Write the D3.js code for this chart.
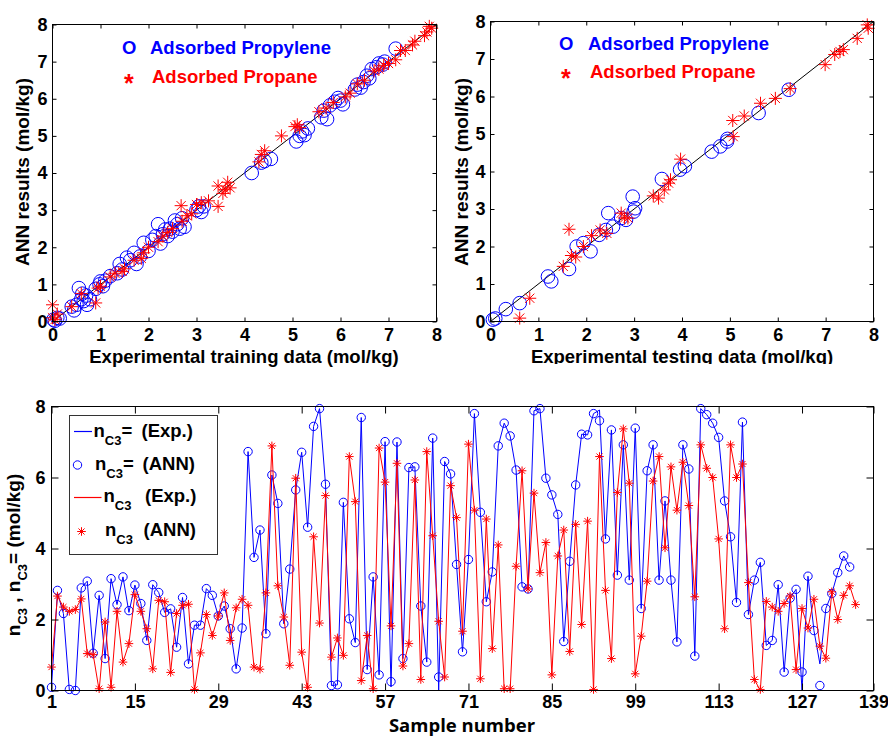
<!DOCTYPE html>
<html>
<head>
<meta charset="utf-8">
<script src="https://cdn.jsdelivr.net/npm/d3@7"></script>
<style>
  body { margin: 0; background: #fff; }
  svg { display: block; font-family: "Liberation Sans", Arial, sans-serif; font-weight: bold; }
</style>
</head>
<body>
<div id="chart"></div>
<script>
// training data (experimental vs ANN), mol/kg
const trainPropyleneExp = [0.02,0.05,0.1,0.15,0.4,0.45,0.5,0.55,0.6,0.62,0.65,0.7,0.72,0.78,0.9,0.98,1.0,1.05,1.1,1.2,1.35,1.4,1.45,1.55,1.62,1.7,1.75,1.82,1.9,2.0,2.08,2.15,2.2,2.25,2.3,2.35,2.4,2.45,2.5,2.55,2.6,2.65,2.7,2.75,3.0,3.05,3.1,3.15,4.15,4.35,4.42,4.55,5.08,5.15,5.2,5.25,5.32,5.6,5.65,5.72,5.78,5.88,5.95,6.0,6.05,6.3,6.35,6.42,6.48,6.55,6.6,6.65,6.75,6.8,6.88,6.92,7.15];
const trainPropyleneAnn = [0.05,0.02,0.1,0.08,0.4,0.3,0.45,0.9,0.6,0.75,0.55,0.7,0.45,0.6,0.88,1.0,1.08,0.95,1.1,1.22,1.3,1.55,1.4,1.72,1.65,1.85,1.55,1.75,2.12,1.9,2.2,2.3,2.62,2.1,2.35,2.48,2.3,2.5,2.42,2.72,2.62,2.5,2.78,2.55,3.0,3.1,2.95,3.1,4.0,4.28,4.32,4.38,4.85,5.0,5.12,5.02,5.2,5.5,5.68,5.45,5.82,5.92,6.02,5.95,5.85,6.25,6.38,6.3,6.45,6.62,6.55,6.8,6.85,6.95,6.92,7.0,7.35];
const trainPropaneExp = [0.0,0.0,0.05,0.1,0.4,0.6,0.9,0.95,1.0,1.2,1.3,1.45,1.5,1.7,1.85,1.9,2.0,2.2,2.3,2.4,2.5,2.68,2.7,2.8,2.9,3.0,3.1,3.25,3.45,3.45,3.55,3.6,3.65,3.7,4.3,4.35,4.42,4.77,5.05,5.1,5.15,5.55,5.7,5.85,6.1,6.2,6.35,6.5,6.7,6.8,6.9,7.0,7.15,7.25,7.35,7.5,7.55,7.75,7.8,7.85,7.9];
const trainPropaneAnn = [0.45,0.1,0.05,0.2,0.4,0.75,0.5,0.9,0.95,1.2,1.3,1.35,1.42,1.65,1.7,1.85,2.0,2.15,2.3,2.4,2.5,3.12,2.7,2.85,2.9,3.15,3.2,3.25,3.1,3.65,3.45,3.55,3.75,3.6,4.3,4.5,4.6,5.0,5.25,5.3,5.22,5.65,5.75,5.9,6.05,6.15,6.4,6.5,6.75,6.8,6.9,6.95,7.05,7.3,7.3,7.45,7.55,7.7,7.8,7.95,7.9];

// testing data
const testPropyleneExp = [0.05,0.1,0.32,0.61,1.2,1.27,1.64,1.8,1.94,2.09,2.27,2.41,2.46,2.56,2.73,2.83,2.97,3.02,2.99,3.58,3.96,4.06,4.62,4.8,4.94,4.95,5.6,6.23];
const testPropyleneAnn = [0.05,0.08,0.33,0.49,1.2,1.07,1.4,2.0,2.09,1.87,2.31,2.44,2.89,2.53,2.76,2.71,3.33,3.02,2.93,3.8,4.05,4.14,4.53,4.67,4.8,4.87,5.56,6.18];
const testPropaneExp = [0.61,0.82,1.52,1.64,1.69,1.78,1.94,2.11,2.29,2.43,2.73,2.8,2.87,3.4,3.51,3.63,3.72,3.76,3.97,5.07,5.06,5.3,5.64,5.95,6.26,6.99,7.19,7.3,7.37,7.66,7.87,7.89];
const testPropaneAnn = [0.09,0.62,1.47,2.46,1.76,1.72,2.0,2.29,2.44,2.35,2.89,2.76,2.76,3.35,3.29,3.51,3.69,3.78,4.33,4.93,5.36,5.48,5.82,5.95,6.21,6.85,7.12,7.2,7.25,7.55,7.91,7.82];

// per-sample series (sample 1..n)
const propyleneExp = [0.1,2.75,2.17,0.0,0.0,2.89,3.08,1.05,2.68,0.9,
  3.15,2.42,3.2,2.2,2.97,2.45,1.41,2.98,2.76,2.2,
  2.3,1.22,2.62,0.75,1.84,1.84,2.87,2.68,2.1,2.38,
  1.74,0.61,1.76,6.73,3.75,4.52,1.6,6.07,5.27,1.88,
  3.42,5.65,6.71,4.6,7.44,7.94,5.81,0.14,0.16,5.3,
  2.02,1.35,7.69,0.59,3.2,0.44,7.01,0.1,7.0,0.9,
  6.28,6.3,2.38,0.8,7.11,0.0,6.45,6.1,3.55,1.09,
  3.69,7.8,5.02,2.5,3.34,6.89,7.53,7.17,6.21,2.92,
  2.86,7.88,7.94,5.98,5.51,4.96,1.38,3.64,5.79,7.22,
  7.2,7.8,7.9,4.27,7.34,3.25,6.92,3.11,7.39,2.31,
  6.19,6.92,3.11,5.34,3.11,1.37,6.92,6.24,0.97,7.94,
  7.77,7.53,7.13,5.34,4.33,2.48,7.56,2.14,3.11,3.61,
  1.27,1.41,2.98,0.52,2.6,2.85,0.0,3.22,1.69,0.75,
  2.31,2.73,3.32,3.79,3.48];
const propyleneAnn = [0.09,2.82,2.17,0.03,0.0,2.89,3.08,1.05,2.68,0.9,
  3.15,2.42,3.2,2.25,2.97,2.45,1.41,2.98,2.76,2.2,
  2.3,1.22,2.62,0.75,1.84,1.84,2.87,2.68,2.1,2.38,
  1.74,0.61,1.76,6.73,3.75,4.52,1.6,6.07,5.27,1.88,
  3.42,5.65,6.71,4.6,7.44,7.94,5.81,0.14,0.16,5.3,
  2.02,1.35,7.69,0.59,3.2,0.44,7.01,0.25,7.0,0.9,
  6.28,6.3,2.38,0.8,7.11,0.38,6.45,6.1,3.55,1.09,
  3.69,7.8,5.02,2.5,3.34,6.89,7.53,7.17,6.21,2.92,
  2.86,7.88,7.94,5.98,5.51,4.96,1.38,3.64,5.79,7.22,
  7.2,7.8,7.6,4.27,7.34,3.25,6.92,3.11,7.39,2.31,
  6.19,6.92,3.11,5.34,3.11,1.37,6.92,6.24,0.97,7.94,
  7.77,7.53,7.13,5.34,4.33,2.48,7.56,2.14,3.11,3.61,
  1.27,1.41,2.98,0.52,2.6,2.85,0.52,3.22,1.69,0.14,
  2.31,2.73,3.32,3.79,3.48];
const propaneExp = [0.66,2.66,2.35,2.23,2.28,2.58,1.04,1.01,0.0,1.93,
  0.09,2.23,0.8,1.32,2.7,2.23,1.74,0.61,2.54,2.5,
  0.51,2.17,2.4,2.43,0.0,1.06,2.14,1.55,2.1,2.75,
  1.41,2.33,2.57,2.4,0.66,0.6,2.75,6.89,2.95,2.07,
  0.71,5.98,1.08,0.0,4.33,1.9,5.49,0.94,1.48,0.99,
  6.59,5.32,0.28,1.55,0.0,6.83,5.87,1.82,6.4,0.69,
  1.32,5.93,0.31,6.73,4.36,1.95,0.38,5.77,4.87,1.67,
  6.94,5.08,0.33,4.83,1.18,4.1,0.0,0.0,3.5,6.19,
  2.86,5.56,3.32,4.17,0.44,3.79,4.52,1.1,4.68,1.86,
  4.77,0.0,6.59,2.82,0.9,5.58,7.37,5.84,0.47,1.53,
  3.08,5.9,6.59,4.02,6.3,5.08,6.43,5.21,2.64,6.92,
  6.26,6.0,4.27,1.74,6.92,6.0,6.38,3.04,0.31,0.0,
  2.51,2.35,2.23,2.45,2.66,0.59,2.31,1.76,2.57,1.25,
  0.91,2.78,2.0,2.68,2.95,2.42];
const propaneAnn = [0.66,2.66,2.35,2.23,2.28,2.58,1.04,1.01,0.05,1.93,
  0.09,2.23,0.8,1.32,2.7,2.23,1.74,0.61,2.54,2.5,
  0.51,2.17,2.4,2.43,0.03,1.06,2.14,1.55,2.1,2.75,
  1.41,2.33,2.57,2.4,0.66,0.6,2.75,6.89,2.95,2.07,
  0.71,5.98,1.08,0.09,4.33,1.9,5.49,0.94,1.48,0.99,
  6.59,5.32,0.28,1.55,0.05,6.83,5.87,1.82,6.4,0.69,
  1.32,5.93,0.31,6.73,4.36,1.95,0.38,5.77,4.87,1.67,
  6.94,5.08,0.33,4.83,1.18,4.1,0.05,0.05,3.5,6.19,
  2.86,5.56,3.32,4.17,0.44,3.79,4.52,1.1,4.68,1.86,
  4.77,0.03,6.59,2.82,0.9,5.58,7.37,5.84,0.47,1.53,
  3.08,5.9,6.59,4.02,6.3,5.08,6.43,5.21,2.64,6.92,
  6.26,6.0,4.27,1.74,6.92,6.0,6.38,3.04,0.31,0.03,
  2.51,2.35,2.23,2.45,2.66,0.59,2.31,1.76,2.57,1.25,
  0.91,2.78,2.0,2.68,2.95,2.42];

const scatterTicks = [0,1,2,3,4,5,6,7,8];
const sampleTicks = [1,15,29,43,57,71,85,99,113,127,139];
const nTicks = [0,2,4,6,8];

const BLUE = "#0000ff", RED = "#ff0000";
const svg = d3.select("#chart").append("svg").attr("width", 888).attr("height", 738);
svg.append("rect").attr("width", 888).attr("height", 738).attr("fill", "#fff");

// MATLAB '*' marker
function starPath(r) {
  const k = r * 0.7071;
  return `M${-r},0H${r}M0,${-r}V${r}M${-k},${-k}L${k},${k}M${-k},${k}L${k},${-k}`;
}

// axes with inward ticks on all four sides and a box
function drawAxes(g, x, y, xTicks, yTicks, tick, padX, padY) {
  const [x0, x1] = x.range(), [y0, y1] = y.range();
  const fmt = d3.format("d");
  const style = (a) => a.call((s) => s.select(".domain").remove())
    .attr("font-size", 18).attr("font-family", null).attr("font-weight", "bold");
  g.append("g").attr("transform", `translate(0,${y0})`)
    .call(d3.axisBottom(x).tickValues(xTicks).tickSizeInner(-tick).tickSizeOuter(0).tickPadding(padX).tickFormat(fmt)).call(style);
  g.append("g").attr("transform", `translate(0,${y1})`)
    .call(d3.axisTop(x).tickValues(xTicks).tickSizeInner(-tick).tickSizeOuter(0).tickFormat("")).call(style);
  g.append("g").attr("transform", `translate(${x0},0)`)
    .call(d3.axisLeft(y).tickValues(yTicks).tickSizeInner(-tick).tickSizeOuter(0).tickPadding(padY).tickFormat(fmt)).call(style);
  g.append("g").attr("transform", `translate(${x1},0)`)
    .call(d3.axisRight(y).tickValues(yTicks).tickSizeInner(-tick).tickSizeOuter(0).tickFormat("")).call(style);
  g.append("rect").attr("x", x0).attr("y", y1).attr("width", x1 - x0).attr("height", y0 - y1)
    .attr("fill", "none").attr("stroke", "#000");
}

function parity(g, x, y, pExp, pAnn, cExp, cAnn) {
  g.append("line").attr("x1", x(0)).attr("y1", y(0)).attr("x2", x(8)).attr("y2", y(8))
    .attr("stroke", "#000").attr("stroke-width", 1);
  g.append("g").selectAll("circle").data(d3.zip(pExp, pAnn)).join("circle")
    .attr("cx", (d) => x(d[0])).attr("cy", (d) => y(d[1])).attr("r", 6.8)
    .attr("fill", "none").attr("stroke", BLUE).attr("stroke-width", 1);
  g.append("g").selectAll("path").data(d3.zip(cExp, cAnn)).join("path")
    .attr("transform", (d) => `translate(${x(d[0])},${y(d[1])})`).attr("d", starPath(6.5))
    .attr("fill", "none").attr("stroke", RED).attr("stroke-width", 1);
}

function parityLegend(g, lx, tx, y1, y2) {
  g.append("text").attr("x", lx).attr("y", y1).attr("font-size", 18.5).attr("fill", BLUE).text("O");
  g.append("text").attr("x", tx).attr("y", y1).attr("font-size", 18.5).attr("fill", BLUE).text("Adsorbed Propylene");
  g.append("text").attr("x", lx + 2).attr("y", y2 + 9).attr("font-size", 25).attr("fill", RED).text("*");
  g.append("text").attr("x", tx + 2).attr("y", y2).attr("font-size", 18.5).attr("fill", RED).text("Adsorbed Propane");
}

// ---- top left: training ----
const xL = d3.scaleLinear().domain([0, 8]).range([52.5, 436.5]);
const yL = d3.scaleLinear().domain([0, 8]).range([321.5, 24.5]);
const gL = svg.append("g");
parity(gL, xL, yL, trainPropyleneExp, trainPropyleneAnn, trainPropaneExp, trainPropaneAnn);
drawAxes(gL, xL, yL, scatterTicks, scatterTicks, 4, 7, 5);
parityLegend(gL, 122, 150, 54, 82.7);
gL.append("text").attr("x", 244).attr("y", 363).attr("text-anchor", "middle").attr("font-size", 18.5)
  .text("Experimental training data (mol/kg)");
gL.append("text").attr("transform", "translate(29,172) rotate(-90)").attr("text-anchor", "middle")
  .attr("font-size", 19).text("ANN results (mol/kg)");

// ---- top right: testing ----
const xR = d3.scaleLinear().domain([0, 8]).range([490.5, 873.5]);
const yR = d3.scaleLinear().domain([0, 8]).range([321.5, 21.5]);
const gR = svg.append("g");
parity(gR, xR, yR, testPropyleneExp, testPropyleneAnn, testPropaneExp, testPropaneAnn);
drawAxes(gR, xR, yR, scatterTicks, scatterTicks, 4, 7, 5);
parityLegend(gR, 559, 588, 49.5, 78.3);
gR.append("text").attr("x", 682).attr("y", 363).attr("text-anchor", "middle").attr("font-size", 18.5)
  .text("Experimental testing data (mol/kg)");
gR.append("text").attr("transform", "translate(468,172) rotate(-90)").attr("text-anchor", "middle")
  .attr("font-size", 19).text("ANN results (mol/kg)");
// the lower panel covers the foot of this label
svg.append("rect").attr("x", 440).attr("y", 364).attr("width", 448).attr("height", 30).attr("fill", "#fff");

// ---- bottom: per sample ----
const xB = d3.scaleLinear().domain([1, 139]).range([51.5, 873.5]);
const yB = d3.scaleLinear().domain([0, 8]).range([690.5, 406.5]);
const gB = svg.append("g");
const line = d3.line().x((d, i) => xB(i + 1)).y((d) => yB(d));

gB.append("path").datum(propyleneExp).attr("d", line).attr("fill", "none").attr("stroke", BLUE).attr("stroke-width", 1);
gB.append("g").selectAll("circle").data(propyleneAnn).join("circle")
  .attr("cx", (d, i) => xB(i + 1)).attr("cy", (d) => yB(d)).attr("r", 4.2)
  .attr("fill", "none").attr("stroke", BLUE).attr("stroke-width", 1);
gB.append("path").datum(propaneExp).attr("d", line).attr("fill", "none").attr("stroke", RED).attr("stroke-width", 1);
gB.append("g").selectAll("path").data(propaneAnn).join("path")
  .attr("transform", (d, i) => `translate(${xB(i + 1)},${yB(d)})`).attr("d", starPath(4.3))
  .attr("fill", "none").attr("stroke", RED).attr("stroke-width", 1);

drawAxes(gB, xB, yB, sampleTicks, nTicks, 7, 5, 6);

// legend
const lg = gB.append("g");
lg.append("rect").attr("x", 69.5).attr("y", 415.5).attr("width", 148).attr("height", 139)
  .attr("fill", "#fff").attr("stroke", "#333").attr("stroke-width", 1);
lg.append("line").attr("x1", 74).attr("x2", 92).attr("y1", 431.5).attr("y2", 431.5)
  .attr("stroke", BLUE).attr("stroke-width", 1.2);
lg.append("circle").attr("cx", 77.5).attr("cy", 465).attr("r", 4.2).attr("fill", "none").attr("stroke", BLUE);
lg.append("line").attr("x1", 74).attr("x2", 101.5).attr("y1", 497.5).attr("y2", 497.5)
  .attr("stroke", RED).attr("stroke-width", 1.2);
lg.append("path").attr("transform", "translate(81.5,531.5)").attr("d", starPath(4.3)).attr("fill", "none").attr("stroke", RED);

const legendRows = [
  { y: 437, x: 93.5, eq: "=", px: 141.5, paren: "(Exp.)" },
  { y: 469.5, x: 95, eq: "=", px: 142.5, paren: "(ANN)" },
  { y: 502, x: 103.5, eq: "", px: 145, paren: "(Exp.)" },
  { y: 536, x: 105, eq: "", px: 143.5, paren: "(ANN)" },
];
legendRows.forEach((r) => {
  const t = lg.append("text").attr("x", r.x).attr("y", r.y).attr("font-size", 18.5).attr("fill", "#000");
  t.append("tspan").text("n");
  t.append("tspan").attr("font-size", 13).attr("dy", 8).text("C3");
  if (r.eq) t.append("tspan").attr("dy", -8).text(r.eq);
  t.append("tspan").attr("x", r.px).attr("y", r.y).text(r.paren);
});

// axis labels
const yl = gB.append("text").attr("transform", "translate(20,555) rotate(-90)").attr("text-anchor", "middle").attr("font-size", 19);
yl.append("tspan").text("n");
yl.append("tspan").attr("font-size", 13).attr("dy", 7).text("C3");
yl.append("tspan").attr("dy", -7).text(" , n");
yl.append("tspan").attr("font-size", 13).attr("dy", 7).text("C3");
yl.append("tspan").attr("dy", -7).text("= (mol/kg)");

gB.append("text").attr("x", 462).attr("y", 732).attr("text-anchor", "middle")
  .attr("font-family", "'Open Sans', 'Noto Sans', sans-serif").attr("font-size", 18.5).text("Sample number");
</script>
</body>
</html>
